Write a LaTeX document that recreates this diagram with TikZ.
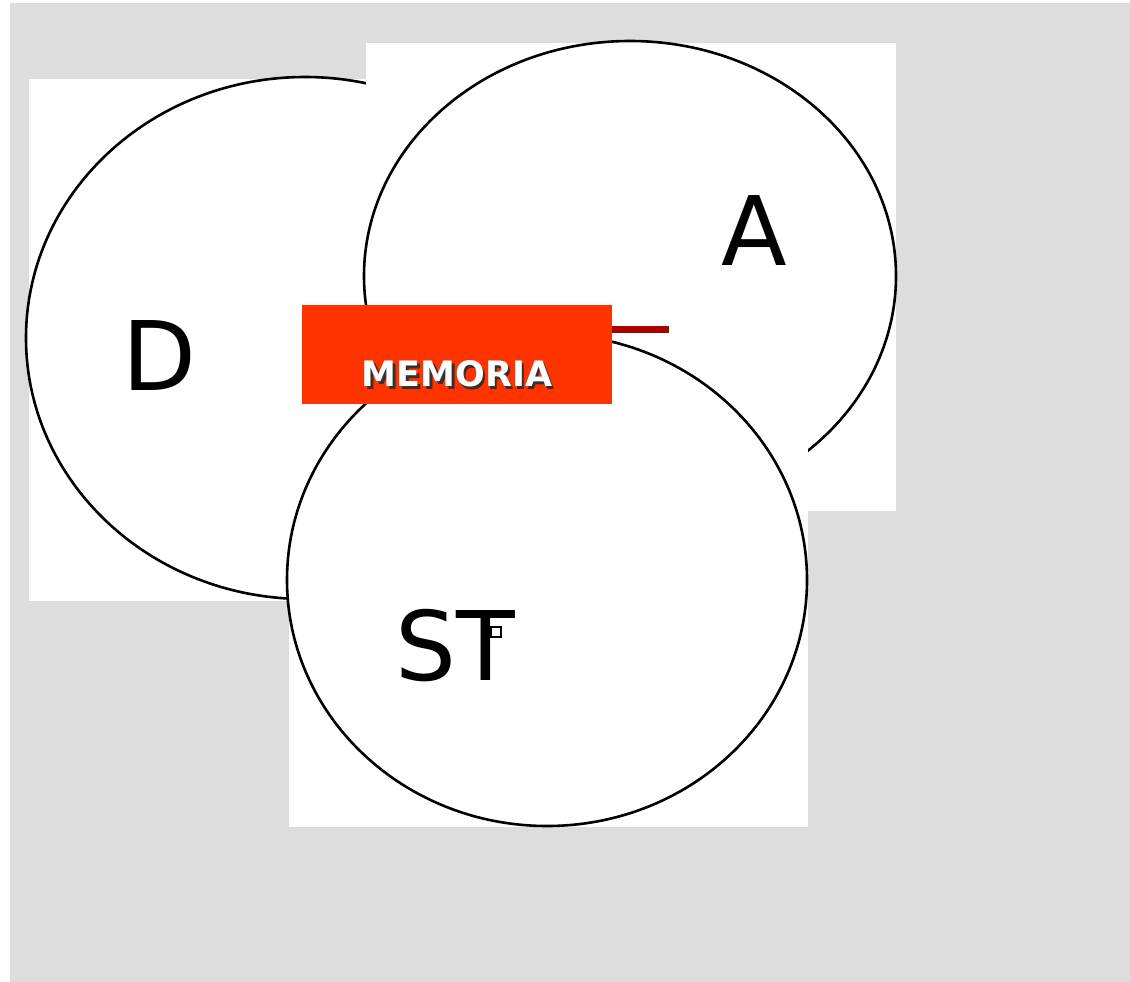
\documentclass[tikz,border=0pt]{standalone}
\usepackage{fontspec}
\setmainfont{DejaVu Sans}
\usetikzlibrary{shapes.geometric}

\definecolor{slidegray}{HTML}{DDDDDD}
\definecolor{memred}{HTML}{FF3300}
\definecolor{bardark}{HTML}{AA0000}

\tikzset{
  picbox/.style={fill=white,draw=none},
  bubble/.style={ellipse,draw=black,line width=2.6pt,fill=white,inner sep=0pt},
  bigletter/.style={anchor=base west,inner sep=0pt,font=\fontsize{96}{96}\selectfont},
  memlabel/.style={inner sep=0pt,font=\bfseries\fontsize{35}{35}\selectfont}
}

\begin{document}
\begin{tikzpicture}[x=1pt,y=-1pt]
  \useasboundingbox (0,0) rectangle (1130,982);
  \fill[slidegray] (10,3) rectangle (1130,982);

  % D
  \path[picbox] (29,79) rectangle (584,601);
  \node[bubble,minimum width=558pt,minimum height=522pt] (DCirc) at (305,338) {};
  \node[bigletter] (DText) at (122,390) {D};

  % A
  \path[picbox] (366,43) rectangle (896,511);
  \node[bubble,minimum width=532pt,minimum height=470pt] (ACirc) at (630,276) {};
  \node[bigletter] (AText) at (721,265) {A};

  % ST
  \path[picbox] (289,333) rectangle (808,827);
  \node[bubble,minimum width=520pt,minimum height=492pt] (STCirc) at (547,580) {};
  \node[bigletter] (STText) at (395,680) {ST};
  \node[draw=black,line width=2pt,minimum size=10pt,inner sep=0pt] (STBox) at (495.5,631.5) {};

  % MEMORIA
  \node[fill=memred,minimum width=310pt,minimum height=99pt,inner sep=0pt] (Mem) at (457,354.5) {};
  \node[memlabel,text=black!80] (MemShadow) at (459.5,376.5) {MEMORIA};
  \node[memlabel,text=white] (MemText) at (457,374) {MEMORIA};
  \coordinate (BarEnd) at (669,329.5);
  \draw[bardark,line width=7pt] (Mem.east |- BarEnd) -- (BarEnd);
\end{tikzpicture}
\end{document}
